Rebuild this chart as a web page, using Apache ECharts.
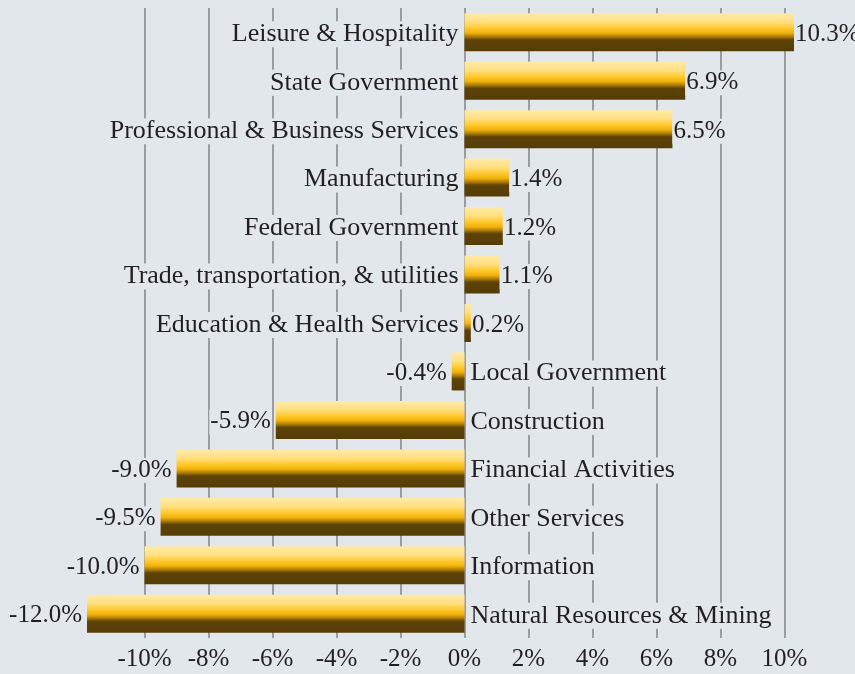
<!DOCTYPE html>
<html>
<head>
<meta charset="utf-8">
<script src="https://cdn.jsdelivr.net/npm/echarts@6/dist/echarts.min.js"></script>
<style>
  html, body { margin: 0; padding: 0; background: #e2e7ec; }
  #chart { width: 855px; height: 674px; }
</style>
</head>
<body>
<div id="chart"></div>
<script>
// categories top to bottom
const categories = [
    'Leisure & Hospitality',
    'State Government',
    'Professional & Business Services',
    'Manufacturing',
    'Federal Government',
    'Trade, transportation, & utilities',
    'Education & Health Services',
    'Local Government',
    'Construction',
    'Financial Activities',
    'Other Services',
    'Information',
    'Natural Resources & Mining'
];
// percent change
const values = [10.3, 6.9, 6.5, 1.4, 1.2, 1.1, 0.2, -0.4, -5.9, -9.0, -9.5, -10.0, -12.0];
// x axis tick labels that are shown
const tickValues = [-10, -8, -6, -4, -2, 0, 2, 4, 6, 8, 10];

const bg = '#e2e7ec';
const font = 'Liberation Serif';
const textColor = '#231f20';

const chart = echarts.init(document.getElementById('chart'));

// bevelled gold look
const barColor = new echarts.graphic.LinearGradient(0, 0, 0, 1, [
    { offset: 0, color: '#ffeaa6' },
    { offset: 0.22, color: '#ffe084' },
    { offset: 0.4, color: '#ffc82a' },
    { offset: 0.52, color: '#f0b10c' },
    { offset: 0.62, color: '#a9790a' },
    { offset: 0.7, color: '#5e4307' },
    { offset: 1, color: '#553c07' }
]);

const labelStyle = {
    fontFamily: font,
    fontSize: 26,
    color: textColor,
    backgroundColor: bg,
    padding: [0, 1]
};

chart.setOption({
    backgroundColor: bg,
    animation: false,
    grid: { left: 87, right: 13, top: 8, bottom: 36, containLabel: false },
    xAxis: {
        type: 'value',
        // axis is cut a little short of the last bar, like the original
        min: -11.8,
        max: 11.8,
        splitNumber: 12,
        axisLine: { show: false },
        axisTick: { show: false },
        axisLabel: {
            fontFamily: font,
            fontSize: 25,
            color: textColor,
            margin: 9,
            showMinLabel: false,
            showMaxLabel: false,
            formatter: (v) => (tickValues.indexOf(v) >= 0 ? v + '%' : '')
        },
        splitLine: {
            show: true,
            lineStyle: {
                width: 2,
                // hide the lines on the outer edges
                color: ['transparent'].concat(tickValues.map(() => '#9a9c9e'), ['transparent'])
            }
        }
    },
    yAxis: {
        type: 'category',
        inverse: true,
        data: categories,
        axisLine: { show: false },
        axisTick: { show: false },
        axisLabel: { show: false },
        splitLine: { show: false }
    },
    series: [
        {
            name: 'value',
            type: 'bar',
            barWidth: 38,
            clip: true,
            z: 3,
            data: values.map((v) => ({
                value: v,
                label: { position: v >= 0 ? 'right' : 'left', distance: v >= 0 ? 0 : 4 }
            })),
            itemStyle: { color: barColor },
            label: Object.assign({}, labelStyle, {
                show: true,
                fontSize: 25,
                offset: [0, 2],
                formatter: (p) => p.value.toFixed(1) + '%'
            })
        },
        {
            name: 'names',
            type: 'bar',
            barWidth: 38,
            barGap: '-100%',
            z: 4,
            silent: true,
            data: values.map((v) => ({
                value: 0,
                label: { position: v >= 0 ? 'left' : 'right', distance: 5 }
            })),
            itemStyle: { color: 'transparent' },
            label: Object.assign({}, labelStyle, {
                show: true,
                offset: [0, 2],
                formatter: (p) => categories[p.dataIndex]
            })
        }
    ]
});
</script>
</body>
</html>
